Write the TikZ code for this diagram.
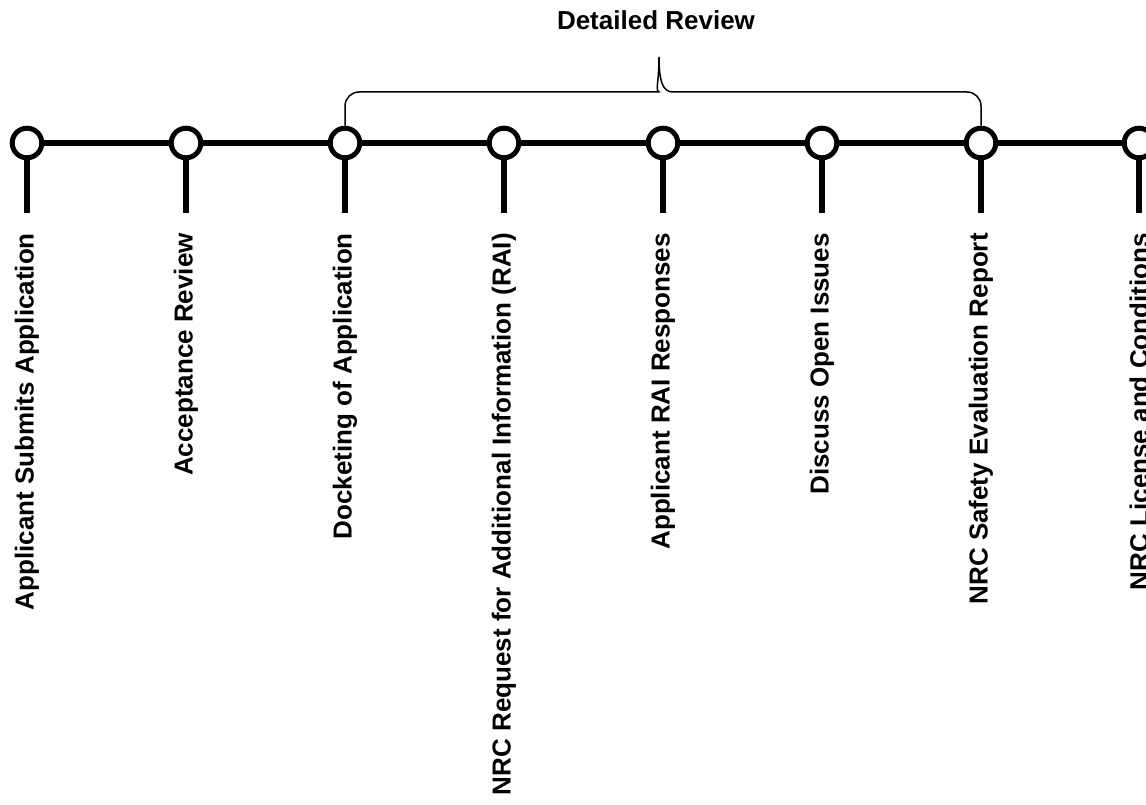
\documentclass[tikz,border=0pt]{standalone}
\usepackage{fontspec}
\setmainfont{Liberation Sans}
\begin{document}
\begin{tikzpicture}[x=1pt,y=-1pt,
  mile/.style={circle,draw=black,fill=white,line width=5pt,minimum size=29.6pt,inner sep=0pt},
  timeline/.style={line width=6.5pt},
  tick/.style={line width=5.3pt},
  lbl/.style={rotate=90,anchor=east,inner sep=0pt,font=\fontsize{26}{30}\selectfont\bfseries},
  brace/.style={line width=1.5pt},
  ttl/.style={anchor=base,inner sep=0pt,font=\fontsize{26}{30}\selectfont\bfseries}]
\useasboundingbox (0,0) rectangle (1146,805);
% milestones
\foreach \i/\x in {1/27,2/186,3/345,4/504,5/663,6/822,7/981,8/1139}{
  \node[mile] (c\i) at (\x,143) {};
  \coordinate (t\i) at (\x,213);
  \coordinate (a\i) at (\x,233);
}
\draw[timeline] (c1) -- (c2);
\draw[timeline] (c2) -- (c3);
\draw[timeline] (c3) -- (c4);
\draw[timeline] (c4) -- (c5);
\draw[timeline] (c5) -- (c6);
\draw[timeline] (c6) -- (c7);
\draw[timeline] (c7) -- (c8);
\foreach \i in {1,...,8}{\draw[tick] (c\i.south) -- (t\i);}
% labels
\node[lbl] (l1) at (a1) {Applicant Submits Application};
\node[lbl] (l2) at (a2) {Acceptance Review};
\node[lbl] (l3) at (a3) {Docketing of Application};
\node[lbl] (l4) at (a4) {NRC Request for Additional Information (RAI)};
\node[lbl] (l5) at (a5) {Applicant RAI Responses};
\node[lbl] (l6) at (a6) {Discuss Open Issues};
\node[lbl] (l7) at (a7) {NRC Safety Evaluation Report};
\node[lbl] (l8) at (a8) {NRC License and Conditions};
% brace
\coordinate (tip) at (659,57);
\draw[brace] (c3.north) [rounded corners=14pt] |- (645,92) [sharp corners]
  .. controls (655,92) and (659,82) .. (tip)
  .. controls (659,82) and (663,92) .. (673,92) [rounded corners=14pt] -| (c7.north);
\node[ttl] (dr) at (656,30) {Detailed Review};
\end{tikzpicture}
\end{document}
